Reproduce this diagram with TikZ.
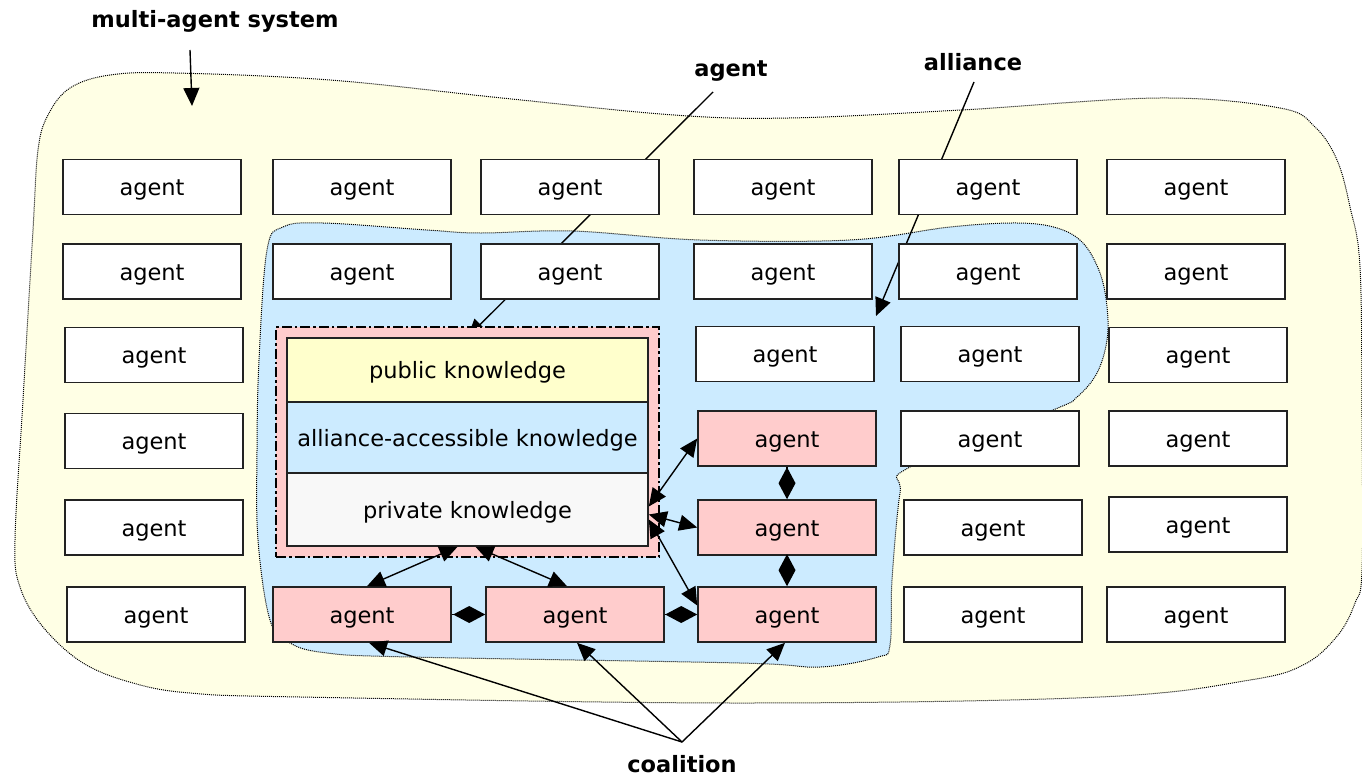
\documentclass[tikz,border=0pt]{standalone}
\usepackage{fontspec}
\setmainfont{DejaVu Sans}
\usetikzlibrary{arrows.meta}

\definecolor{sysfill}{HTML}{FFFFE5}
\definecolor{allyfill}{HTML}{CCEBFF}
\definecolor{coalfill}{HTML}{FFCCCC}
\definecolor{pubfill}{HTML}{FFFFCC}
\definecolor{privfill}{HTML}{F8F8F8}
\definecolor{edge}{HTML}{222222}

\pgfdeclarelayer{blobs}
\pgfdeclarelayer{wires}
\pgfsetlayers{blobs,wires,main}

\tikzset{
  txt/.style={font=\fontsize{22.5}{27}\selectfont, text height=17pt, text depth=0pt},
  agentbox/.style={txt, draw=edge, line width=1.6pt, fill=white,
    minimum width=178pt, minimum height=55pt, inner sep=0pt},
  coalbox/.style={agentbox, fill=coalfill},
  kbframe/.style={draw=black, fill=coalfill, line width=1.6pt,
    dash pattern=on 10pt off 3pt on 2.5pt off 3pt,
    minimum width=383pt, minimum height=230pt, inner sep=0pt},
  kbpart/.style={txt, draw=edge, line width=1.6pt,
    minimum width=361pt, inner sep=0pt},
  caption/.style={font=\fontsize{22.5}{27}\selectfont\bfseries},
  region/.style={draw=black, line width=1pt, dash pattern=on 1pt off 1pt},
  tri/.tip={Triangle[length=18pt,width=16pt]},
  link/.style={line width=1.4pt, -tri},
  dlink/.style={line width=1.4pt, tri-tri},
  bond/.style={line width=1.4pt, -{Diamond[length=32pt,width=17pt]}},
}

\begin{document}
\begin{tikzpicture}[x=1pt,y=-1pt]
\useasboundingbox (0,0) rectangle (1362,776);

% ---- regions: the whole system and the alliance ----
\begin{pgfonlayer}{blobs}
\path[region, fill=sysfill] plot[smooth cycle, tension=0.6] coordinates {
  (110,75) (175,73) (330,80) (502,98) (674,115) (789,118) (961,110)
  (1160,98) (1280,108) (1315,127) (1337,160) (1350,207) (1360,267)
  (1362,420) (1362,570) (1355,603) (1338,635) (1305,664) (1250,680)
  (1100,697) (740,703) (300,697) (190,693) (133,683) (83,663)
  (43,627) (20,587) (15,540) (23,400) (33,230) (38,150) (48,115) (70,88)};
\path[region, fill=allyfill] plot[smooth cycle, tension=0.6] coordinates {
  (283,227) (323,223) (427,230) (480,233) (573,231) (700,240) (850,240)
  (950,227) (1017,223) (1057,228) (1083,243) (1100,273) (1107,307)
  (1107,340) (1097,373) (1077,397) (1053,410) (910,467) (900,493)
  (892,580) (890,645) (878,657) (820,667) (740,663) (410,657)
  (327,653) (290,643) (270,620) (258,540) (257,450) (259,360) (267,250)};
\end{pgfonlayer}

% ---- captions ----
\node[caption] (mas)   at (215,21)  {multi-agent system};
\node[caption] (lagt)  at (731,71)  {agent};
\node[caption] (lally) at (973,62)  {alliance};
\node[caption] (lcoal) at (682,764) {coalition};

% ---- agents ----
\node[agentbox] (a11) at (152,187)  {agent};
\node[agentbox] (a12) at (362,187)  {agent};
\node[agentbox] (a13) at (570,187)  {agent};
\node[agentbox] (a14) at (783,187)  {agent};
\node[agentbox] (a15) at (988,187)  {agent};
\node[agentbox] (a16) at (1196,187) {agent};

\node[agentbox] (a21) at (152,271.5)  {agent};
\node[agentbox] (a22) at (362,271.5)  {agent};
\node[agentbox] (a23) at (570,271.5)  {agent};
\node[agentbox] (a24) at (783,271.5)  {agent};
\node[agentbox] (a25) at (988,271.5)  {agent};
\node[agentbox] (a26) at (1196,271.5) {agent};

\node[agentbox] (a31) at (154,355)  {agent};
\node[agentbox] (a34) at (785,354)  {agent};
\node[agentbox] (a35) at (990,354)  {agent};
\node[agentbox] (a36) at (1198,355) {agent};

\node[agentbox] (a41) at (154,441)    {agent};
\node[coalbox]  (p41) at (787,438.5)  {agent};
\node[agentbox] (a45) at (990,438.5)  {agent};
\node[agentbox] (a46) at (1198,438.5) {agent};

\node[agentbox] (a51) at (154,527.5)  {agent};
\node[coalbox]  (p51) at (787,527.5)  {agent};
\node[agentbox] (a55) at (993,527.5)  {agent};
\node[agentbox] (a56) at (1198,524.5) {agent};

\node[agentbox] (a61) at (156,614.5)  {agent};
\node[coalbox]  (p61) at (362,614.5)  {agent};
\node[coalbox]  (p62) at (575,614.5)  {agent};
\node[coalbox]  (p63) at (787,614.5)  {agent};
\node[agentbox] (a65) at (993,614.5)  {agent};
\node[agentbox] (a66) at (1196,614.5) {agent};

% ---- the agent's knowledge layers ----
\node[kbframe] (kb) at (467.5,442) {};
\node[kbpart, fill=pubfill,  minimum height=64pt] (pub)  at (467.5,370)   {public knowledge};
\node[kbpart, fill=allyfill, minimum height=71pt] (ally) at (467.5,437.5) {alliance-accessible knowledge};
\node[kbpart, fill=privfill, minimum height=73pt] (priv) at (467.5,509.5) {private knowledge};

% ---- caption pointers ----
\coordinate (masfoot)  at (190,50);
\coordinate (mastip)   at (192,106);
\coordinate (agtfoot)  at (713,92);
\coordinate (allyfoot) at (974,82);
\coordinate (allytip)  at (876,316);
\coordinate (coalfoot) at (682,742);

\draw[link] (masfoot) -- (mastip);
\begin{pgfonlayer}{wires}
\draw[link] (agtfoot) -- (pub.north);
\draw[link] (allyfoot) -- (allytip);
\end{pgfonlayer}
\draw[link] (coalfoot) -- ([xshift=7pt]p61.south);
\draw[link] (coalfoot) -- ([xshift=2pt]p62.south);
\draw[link] (coalfoot) -- ([xshift=-2pt]p63.south);

% ---- knowledge exchange within the coalition ----
\draw[dlink] ([xshift=-10pt]priv.south) -- ([xshift=5pt]p61.north);
\draw[dlink] ([xshift=8pt]priv.south) -- ([xshift=-8pt]p62.north);
\draw[dlink] ([yshift=3pt]priv.east) -- (p41.west);
\draw[dlink] ([yshift=-5pt]priv.east) -- (p51.west);
\draw[dlink] ([yshift=-10pt]priv.east) -- ([yshift=9pt]p63.west);

% ---- bonds between coalition members ----
\draw[bond] (p41.south) -- (p51.north);
\draw[bond] (p51.south) -- (p63.north);
\draw[bond] (p61.east) -- (p62.west);
\draw[bond] (p62.east) -- (p63.west);
\end{tikzpicture}
\end{document}
